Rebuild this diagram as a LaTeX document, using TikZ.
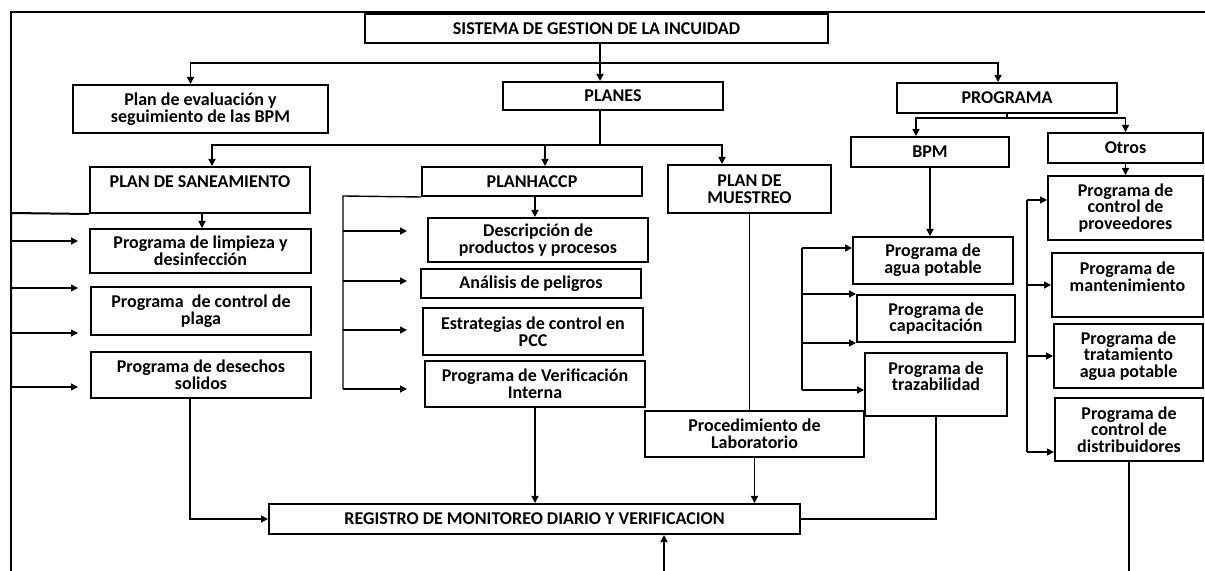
\documentclass[tikz,border=0pt]{standalone}
\usepackage{fontspec}
\setmainfont{Carlito}
\usetikzlibrary{arrows.meta,positioning}

\begin{document}
\begin{tikzpicture}[x=0.5pt,y=-0.5pt,line width=0.7pt,>={Triangle[length=3.5pt,width=3.5pt]},
	box/.style={draw,line width=1pt,align=center,inner sep=1pt,font=\bfseries\fontsize{9}{8.3}\selectfont}]
\useasboundingbox (0,0) rectangle (1205,571);
\draw[line width=0.8pt] (11,571) |- (1205,12);

\node[box,minimum width=231.5pt,minimum height=14.5pt] (sis) at (596.5,28.5) {SISTEMA DE GESTION DE LA INCUIDAD};
\node[box,minimum width=127.5pt,minimum height=24pt] (eval) at (200.5,109) {Plan de evaluación y\\seguimiento de las BPM};
\node[box,minimum width=110pt,minimum height=14pt] (planes) at (613,96) {PLANES};
\node[box,minimum width=110pt,minimum height=15pt] (prog) at (1007,98) {PROGRAMA};

\node[box,minimum width=110pt,minimum height=23pt] (san) at (200,190) {PLAN DE SANEAMIENTO\\~};
\node[box,minimum width=110pt,minimum height=14.5pt] (hac) at (532,181.5) {PLANHACCP};
\node[box,minimum width=81.5pt,minimum height=24pt] (mue) at (749.5,189) {PLAN DE\\MUESTREO};
\node[box,minimum width=79pt,minimum height=15pt] (bpm) at (930,152) {BPM};
\node[box,minimum width=77.5pt,minimum height=15pt] (otros) at (1125.5,148) {Otros};

\node[box,minimum width=110.5pt,minimum height=22pt] (limp) at (200.5,251) {Programa de limpieza y\\desinfección};
\node[box,minimum width=110pt,minimum height=24pt] (plaga) at (201,311) {Programa\ \ de control de\\plaga};
\node[box,minimum width=110pt,minimum height=23pt] (des) at (201,375) {Programa de desechos\\solidos};

\node[box,minimum width=110pt,minimum height=22pt] (desc) at (538,240) {Descripción de\\productos y procesos};
\node[box,minimum width=110pt,minimum height=14.5pt] (anal) at (531,283.5) {Análisis de peligros};
\node[box,minimum width=110pt,minimum height=23.5pt] (estr) at (533,331.5) {Estrategias de control en\\PCC};
\node[box,minimum width=110pt,minimum height=23pt] (ver) at (535,384) {Programa de Verificación\\Interna};

\node[box,minimum width=80pt,minimum height=23.5pt] (agua) at (933,260.5) {Programa de\\agua potable};
\node[box,minimum width=79pt,minimum height=23.5pt] (cap) at (936,318.5) {Programa de\\capacitación};
\node[box,minimum width=71pt,minimum height=31.5pt] (traz) at (936,384.5) {Programa de\\trazabilidad\\~};
\node[box,minimum width=109.5pt,minimum height=23pt] (proc) at (754.5,434) {Procedimiento de\\Laboratorio};
\node[box,minimum width=265.5pt,minimum height=15pt] (reg) at (534.5,519) {REGISTRO DE MONITOREO DIARIO Y VERIFICACION};

\node[box,minimum width=77.5pt,minimum height=32pt] (prov) at (1125.5,208) {Programa de\\control de\\proveedores};
\node[box,minimum width=75.5pt,minimum height=32pt] (mant) at (1127.5,285) {Programa de\\mantenimiento\\~};
\node[box,minimum width=74.5pt,minimum height=32pt] (trat) at (1128.5,356) {Programa de\\tratamiento\\agua potable};
\node[box,minimum width=74pt,minimum height=31.5pt] (dist) at (1129,429.5) {Programa de\\control de\\distribuidores};

\coordinate (j1) at (600,63);
\coordinate (j2) at (600,145);
\coordinate (j3) at (1007,118);
\draw[->] (sis.south-|j1) -- (planes.north-|j1);
\draw[->] (j1) -| ([xshift=-5pt]eval.north);
\draw[->] (j1) -| ([xshift=-4.5pt]prog.north);
\draw (planes.south-|j2) -- (j2);
\draw[->] (j2) -| ([xshift=6pt]san.north);
\draw[->] (j2) -| ([xshift=6.5pt]hac.north);
\draw[->] (j2) -| ([xshift=-13.75pt]mue.north);
\draw (prog.south-|j3) -- (j3);
\draw[->] (j3) -| ([xshift=-7pt]bpm.north);
\draw[->] (j3) -| (otros.north);
\draw[->] (otros) -- (prov);
\draw[->] (bpm.south) -- (bpm.south|-agua.north);

\coordinate (a1) at (11,213);
\coordinate (a2) at (11,387);
\draw[line width=1pt] (a2) -- (a1) -- (san.south west);
\foreach \y [count=\i] in {241,288,333,387} {\coordinate (s\i) at (78,\y); \draw[->] (a1|-s\i) -- (s\i);}
\draw[->] ([xshift=1pt]san.south) -- ([xshift=1pt]san.south|-limp.north);

\coordinate (h1) at (343,196);
\coordinate (h2) at (343,389);
\draw (h2) -- (h1) -- (hac.south west);
\foreach \y [count=\i] in {231,281,330,389} {\coordinate (p\i) at (407,\y); \draw[->] (h1|-p\i) -- (p\i);}
\draw[->] ([xshift=1.5pt]hac.south) -- ([xshift=1.5pt]hac.south|-desc.north);

\coordinate (c1) at (802,248);
\coordinate (c2) at (802,390);
\draw (c1) -- (c2);
\draw[->] (c1) -- (c1-|agua.west);
\draw[->] (c1|-cap.north west) -- (cap.north west);
\draw[->] (c1|-cap.south west) -- (cap.south west);
\draw[->] (c2) -- (c2-|traz.west);

\coordinate (b1) at (1027,200);
\coordinate (b2) at (1027,452);
\draw (b1) -- (b2);
\draw[->] (b1) -- (b1-|prov.west);
\draw[->] (b1|-mant) -- (mant);
\draw[->] (b1|-trat) -- (trat);
\draw[->] (b2) -- (b2-|dist.west);

\coordinate (o1) at (664,571);
\coordinate (o2) at (1130,571);
\draw (dist) -- (dist|-o2);
\draw[->] (o1) -- (o1|-reg.south);
\draw (mue.south) -- (mue.south|-proc.north);
\draw[->] (proc.south) -- (proc.south|-reg.north);
\draw[->] (ver) -- (ver|-reg.north);
\draw[->] ([xshift=-5.5pt]des.south) |- (reg.west);
\draw (traz.south) |- (reg.east);
\end{tikzpicture}
\end{document}
